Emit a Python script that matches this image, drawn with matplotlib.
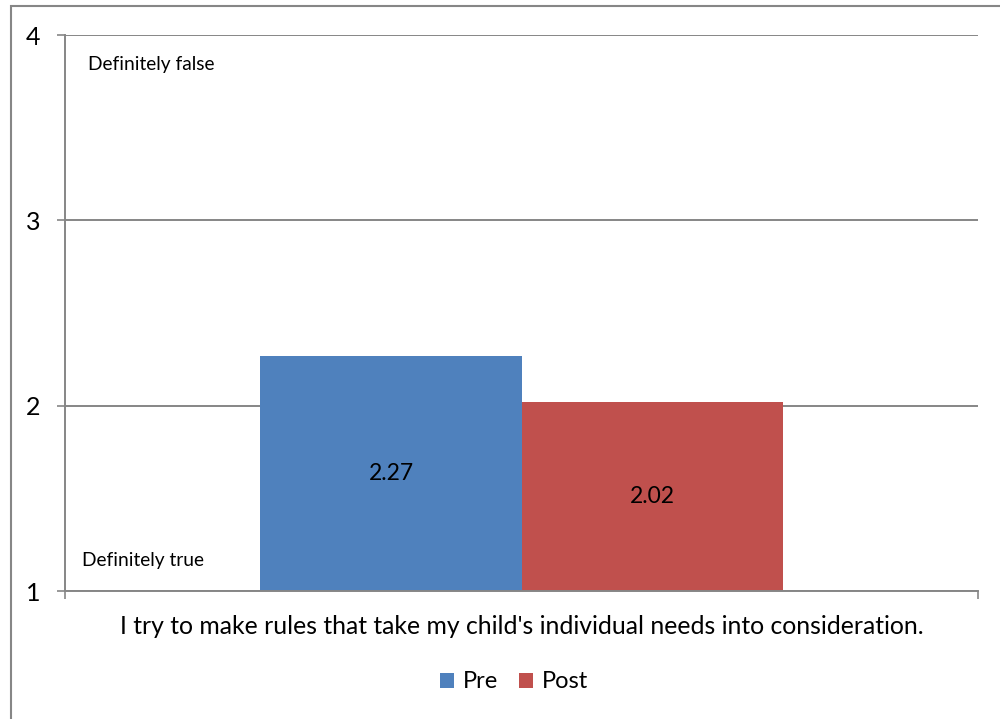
import matplotlib
matplotlib.use("Agg")
import matplotlib.pyplot as plt
from matplotlib.patches import Rectangle, Patch

plt.rcParams['font.family'] = ['Lato', 'DejaVu Sans']

series = ["Pre", "Post"]
values = [2.27, 2.02]
colors = ["#4F81BD", "#C0504D"]
category = "I try to make rules that take my child's individual needs into consideration."
yticks = [1, 2, 3, 4]
top_note = "Definitely false"
bottom_note = "Definitely true"

fig = plt.figure(figsize=(10, 7.19), dpi=100)
ax = fig.add_axes([0.065, 0.178, 0.913, 0.7733])

grid_col = "#868686"
bw = 0.286
offsets = [-bw / 2, bw / 2]
for s, v, c, o in zip(series, values, colors, offsets):
    ax.bar(o, v - 1, bottom=1, width=bw, color=c, label=s, zorder=3)
    ax.text(o, 1 + (v - 1) / 2, f"{v:.2f}", ha="center", va="center",
            fontsize=16.5, color="black", zorder=4)

ax.set_xlim(-0.5, 0.5)
ax.set_ylim(1, 4)
ax.set_yticks(yticks)
ax.set_yticklabels([str(t) for t in yticks], fontsize=18)
ax.set_xticks([-0.5, 0.5])
ax.set_xticklabels(["", ""])
ax.tick_params(axis="y", direction="out", length=6, width=1.2, color=grid_col, pad=12)
ax.tick_params(axis="x", direction="out", length=6, width=1.2, color=grid_col)
ax.yaxis.grid(True, color=grid_col, linewidth=1.4, zorder=0)
ax.set_axisbelow(True)
for side in ["top", "right"]:
    ax.spines[side].set_visible(False)
for side in ["left", "bottom"]:
    ax.spines[side].set_color(grid_col)
    ax.spines[side].set_linewidth(1.4)
    ax.spines[side].set_zorder(5)

ax.text(-0.475, 3.84, top_note, ha="left", va="center", fontsize=13.8)
ax.text(-0.481, 1.167, bottom_note, ha="left", va="center", fontsize=13.8)

fig.text(0.5215, 1 - 627 / 719, category, ha="center", va="center", fontsize=17.8)

handles = [Patch(facecolor=c, label=s) for s, c in zip(series, colors)]
fig.legend(handles=handles, loc="center", bbox_to_anchor=(0.514, 1 - 682 / 719),
           ncol=2, frameon=False, fontsize=17, handlelength=0.6, handleheight=0.6,
           handletextpad=0.35, columnspacing=0.9)

fig.add_artist(Rectangle((0.0105, -0.05), 1.2, 1.05 - 5.5 / 719, transform=fig.transFigure,
                         fill=False, edgecolor="#868686", linewidth=1.5))

fig.savefig("out.png", dpi=100)
